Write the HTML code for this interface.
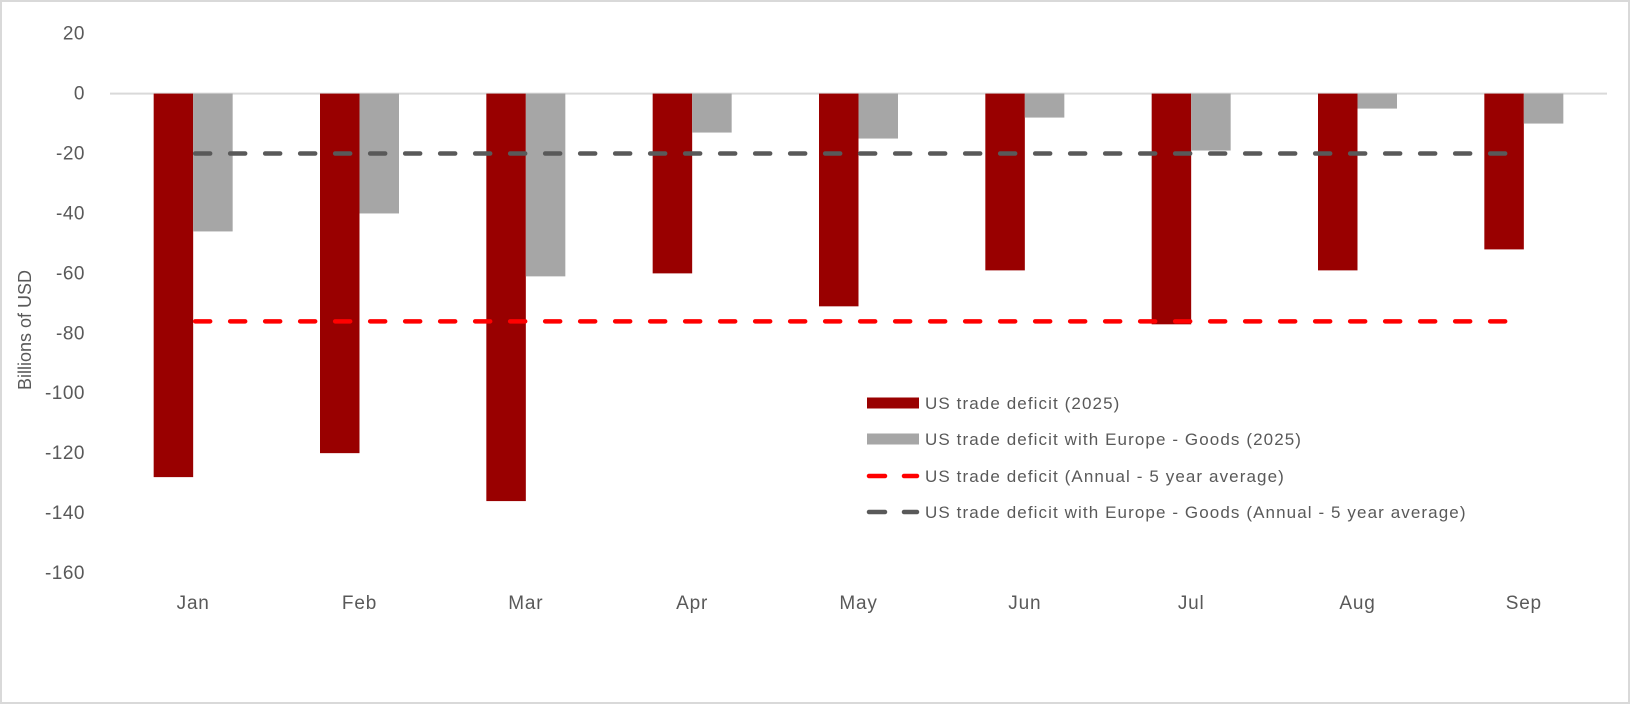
<!DOCTYPE html>
<html><head><meta charset="utf-8"><style>
html,body{margin:0;padding:0;background:#fff}
svg{display:block;font-family:"Liberation Sans",sans-serif}
</style></head><body>
<svg id="chart" width="1630" height="704" viewBox="0 0 1630 704">
<rect x="1" y="1" width="1628" height="702" fill="#fff" stroke="#d9d9d9" stroke-width="2"/>
<g id="grid"></g><g id="bars"></g><g id="lines"></g><g id="axes"></g>
<text transform="translate(31,330) rotate(-90)" text-anchor="middle" font-size="18" fill="#595959">Billions of USD</text>
<g id="legend"></g>
</svg>
<script>
const categories=["Jan","Feb","Mar","Apr","May","Jun","Jul","Aug","Sep"];
const usDeficit=[-128,-120,-136,-60,-71,-59,-77,-59,-52];
const europeDeficit=[-46,-40,-61,-13,-15,-8,-19,-5,-10];
const usAvg=-76;
const europeAvg=-20;
const yTicks=[20,0,-20,-40,-60,-80,-100,-120,-140,-160];
const legendLabels=["US trade deficit (2025)","US trade deficit with Europe - Goods (2025)","US trade deficit (Annual - 5 year average)","US trade deficit with Europe - Goods (Annual - 5 year average)"];

const NS="http://www.w3.org/2000/svg";
const plotL=110,plotR=1607,band=(plotR-plotL)/categories.length,barW=39.5;
function y(v){return 93.6+(0-v)*(573-93.6)/160;}
function xc(i){return plotL+band*(i+0.5);}
function mk(tag,attrs,parent){const e=document.createElementNS(NS,tag);for(const k in attrs)e.setAttribute(k,attrs[k]);document.getElementById(parent).appendChild(e);return e;}

yTicks.forEach(t=>{
  const e=mk('text',{x:85,y:y(t)+6,'text-anchor':'end','font-size':19,fill:'#595959','letter-spacing':'0.5'},'axes');
  
  
  e.textContent=t;
});
const zl=mk('line',{x1:plotL,x2:plotR,y1:y(0),y2:y(0),stroke:'#d9d9d9','stroke-width':2},'grid');



categories.forEach((c,i)=>{
  const cx=xc(i);
  const r=mk('rect',{x:cx-barW,y:y(0),width:barW,height:y(usDeficit[i])-y(0),fill:'#990000'},'bars');
  
  
  const g=mk('rect',{x:cx,y:y(0),width:barW,height:y(europeDeficit[i])-y(0),fill:'#a6a6a6'},'bars');
  
  
  const t=mk('text',{x:cx,y:609,'text-anchor':'middle','font-size':19,fill:'#595959','letter-spacing':'0.8'},'axes');
  
  
  t.textContent=c;
});
const x0=xc(0)+2,x1=xc(categories.length-1);
const l1=mk('line',{x1:x0,x2:x1,y1:y(usAvg),y2:y(usAvg),stroke:'#ff0000','stroke-width':4.5,'stroke-dasharray':'15 20','stroke-linecap':'round'},'lines');


const l2=mk('line',{x1:x0,x2:x1,y1:y(europeAvg),y2:y(europeAvg),stroke:'#595959','stroke-width':4.5,'stroke-dasharray':'15 20','stroke-linecap':'round'},'lines');



const ly=[403,439,476,512];
legendLabels.forEach((lab,i)=>{
  let s;
  if(i<2){s=mk('rect',{x:867,y:ly[i]-5.5,width:52,height:11,fill:i==0?'#990000':'#a6a6a6'},'legend');}
  else{s=mk('line',{x1:869,x2:917,y1:ly[i],y2:ly[i],stroke:i==2?'#ff0000':'#595959','stroke-width':4.5,'stroke-dasharray':'16 19','stroke-linecap':'round'},'legend');}
  
  
  const t=mk('text',{x:925,y:ly[i]+6,'font-size':17,fill:'#595959','letter-spacing':'1.1'},'legend');
  
  
  t.textContent=lab;
});
</script>
</body></html>
